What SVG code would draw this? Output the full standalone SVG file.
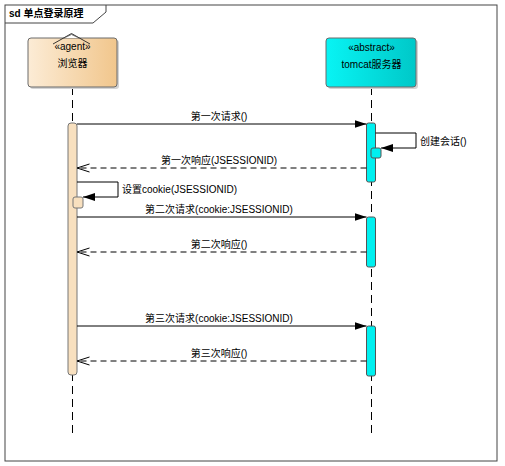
<svg xmlns="http://www.w3.org/2000/svg" width="505" height="466" viewBox="0 0 505 466">
<defs>
<linearGradient id="gAgent" x1="0" y1="0" x2="1" y2="0">
<stop offset="0" stop-color="#fcecd6"/>
<stop offset="1" stop-color="#f1c68c"/>
</linearGradient>
<linearGradient id="gTomcat" x1="0" y1="0" x2="1" y2="0">
<stop offset="0" stop-color="#08f4f4"/>
<stop offset="1" stop-color="#00c8c8"/>
</linearGradient>
<marker id="filled" viewBox="0 0 12 8" refX="12" refY="4" markerWidth="12" markerHeight="8" markerUnits="userSpaceOnUse" orient="auto">
<path d="M0,0 L12,4 L0,8 Z" fill="#000"/>
</marker>
<marker id="open" viewBox="0 0 13 10" refX="12.5" refY="5" markerWidth="13" markerHeight="10" markerUnits="userSpaceOnUse" orient="auto">
<path d="M0,1 L12.5,5 L0,9" fill="none" stroke="#000" stroke-width="1"/>
</marker>
</defs>
<style>
text{font-family:"Liberation Sans","Noto Sans CJK SC",sans-serif;font-size:10px;fill:#000}
.title{font-weight:bold}
.frame{fill:#fff;stroke:#444;stroke-width:1}
.node{stroke:#6b6b6b;stroke-width:1}
.shadow{fill:#d4d4d4}
.life{stroke:#000;stroke-width:1;stroke-dasharray:8,5;fill:none}
.actA{fill:#f8e0bf;stroke:#777;stroke-width:1}
.actT{fill:#00f0f0;stroke:#555;stroke-width:1}
.msg{stroke:#000;stroke-width:1;fill:none}
.ret{stroke:#000;stroke-width:1;fill:none;stroke-dasharray:6,4}
.mid{text-anchor:middle}
</style>
<rect width="505" height="466" fill="#fff"/>
<g id="frame">
<rect class="frame" x="5" y="5" width="492" height="456"/>
<path d="M5,23 L93,23 L106,12 L106,5" fill="none" stroke="#444" stroke-width="1"/>
<text class="title" x="9" y="17">sd 单点登录原理</text>
</g>
<g id="lifelines">
<line class="life" x1="72.5" y1="87" x2="72.5" y2="437"/>
<line class="life" x1="371.5" y1="87" x2="371.5" y2="437"/>
</g>
<g id="browser">
<rect class="shadow" x="30" y="40" width="89" height="49" rx="3"/>
<rect class="node" x="28" y="38" width="89" height="49" rx="3" fill="url(#gAgent)"/>
<path d="M53,44 L71.5,33.5 L90,44" fill="none" stroke="#222" stroke-width="0.9"/>
<path d="M64,38 L71.5,34.5 L79,38" fill="#fff" stroke="#222" stroke-width="0.6"/>
<text class="mid" x="72.5" y="50">«agent»</text>
<text class="mid" x="72.5" y="67">浏览器</text>
</g>
<g id="tomcat">
<rect class="shadow" x="328" y="40" width="90" height="49" rx="3"/>
<rect class="node" x="326" y="38" width="90" height="49" rx="3" fill="url(#gTomcat)"/>
<text class="mid" x="371.5" y="51">«abstract»</text>
<text class="mid" x="371.5" y="68">tomcat服务器</text>
</g>
<g id="activations">
<rect class="actA" x="68" y="123" width="9" height="252" rx="3"/>
<rect class="actT" x="366.5" y="123" width="9" height="59" rx="2"/>
<rect class="actT" x="371" y="148" width="10" height="10" rx="2"/>
<rect class="actA" x="73" y="197" width="10" height="11" rx="2"/>
<rect class="actT" x="366.5" y="217" width="9" height="50" rx="2"/>
<rect class="actT" x="366.5" y="326" width="9" height="50" rx="2"/>
</g>
<g id="connectors">
<line class="msg" x1="77" y1="124" x2="366.5" y2="124" marker-end="url(#filled)"/>
<polyline class="msg" points="375.5,133 416,133 416,148 381,148" marker-end="url(#filled)"/>
<line class="ret" x1="366.5" y1="168" x2="77" y2="168" marker-end="url(#open)"/>
<polyline class="msg" points="77,182 118,182 118,197 83,197" marker-end="url(#filled)"/>
<line class="msg" x1="77" y1="217" x2="366.5" y2="217" marker-end="url(#filled)"/>
<line class="ret" x1="366.5" y1="252" x2="77" y2="252" marker-end="url(#open)"/>
<line class="msg" x1="77" y1="326" x2="366.5" y2="326" marker-end="url(#filled)"/>
<line class="ret" x1="366.5" y1="361" x2="77" y2="361" marker-end="url(#open)"/>
</g>
<g id="labels">
<text class="mid" x="219" y="120">第一次请求()</text>
<text x="420" y="145">创建会话()</text>
<text class="mid" x="219" y="164">第一次响应(JSESSIONID)</text>
<text x="122" y="193">设置cookie(JSESSIONID)</text>
<text class="mid" x="219" y="213">第二次请求(cookie:JSESSIONID)</text>
<text class="mid" x="219" y="248">第二次响应()</text>
<text class="mid" x="219" y="322">第三次请求(cookie:JSESSIONID)</text>
<text class="mid" x="219" y="357">第三次响应()</text>
</g>
</svg>
